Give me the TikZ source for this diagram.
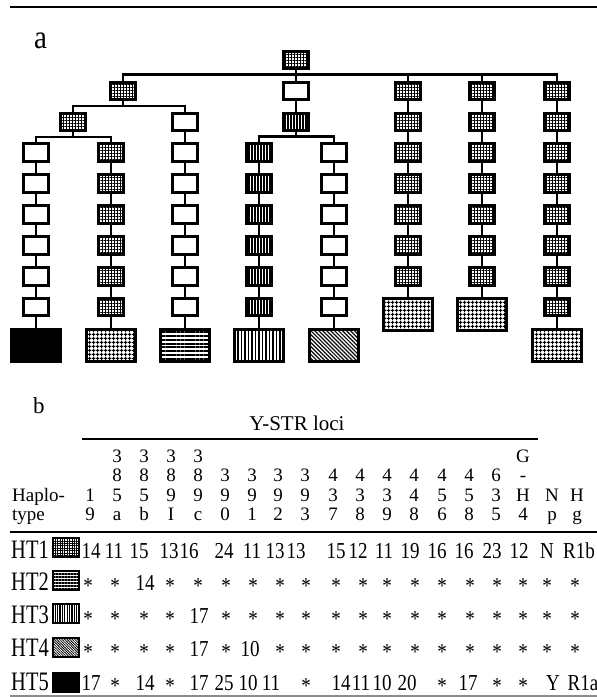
\documentclass[tikz,border=0pt]{standalone}
\usepackage{fontspec}
\setmainfont{Liberation Serif}
\usepackage{graphicx}
\usetikzlibrary{patterns.meta,backgrounds}
\newcommand\vs[1]{\scalebox{1}[1.2]{#1}}
\newcommand\st{\raisebox{-2.5bp}{*}}
\tikzset{
  box/.style={draw, line width=3bp, minimum width=24.5bp, minimum height=17.5bp, inner sep=0, preaction={fill=white}},
  bigbox/.style={draw, line width=3bp, minimum width=49bp, minimum height=32bp, inner sep=0, preaction={fill=white}},
  tbox/.style={draw, line width=2bp, minimum width=26bp, minimum height=19bp, inner sep=0},
  conn/.style={line width=2.6bp},
  rule/.style={line width=1.8bp},
  gridS/.style={pattern={Hatch[angle=0,distance=3bp,line width=1bp]}},
  gridB/.style={pattern={Hatch[angle=0,distance=3.6bp,line width=1.2bp]}},
  vlS/.style={pattern={Lines[angle=90,distance=3bp,line width=1.6bp]}},
  vlB/.style={pattern={Lines[angle=90,distance=3.5bp,line width=1.9bp]}},
  hlB/.style={pattern={Lines[angle=0,distance=3.8bp,line width=2.1bp]}},
  dgB/.style={pattern={Lines[angle=-45,distance=2.8bp,line width=1.2bp]}},
  gridT/.style={pattern={Hatch[angle=0,distance=2.4bp,line width=0.8bp]}},
  hlT/.style={pattern={Lines[angle=0,distance=3bp,line width=1.5bp]}},
  vlT/.style={pattern={Lines[angle=90,distance=2.4bp,line width=1.3bp]}},
  dgT/.style={pattern={Lines[angle=-45,distance=1.8bp,line width=0.8bp]}},
  hd/.style={anchor=base, inner sep=0, font=\fontsize{19bp}{19bp}\selectfont},
  num/.style={anchor=base, inner sep=0, font=\fontsize{19bp}{19bp}\selectfont},
  htlab/.style={anchor=base west, inner sep=0, font=\fontsize{20.5bp}{20.5bp}\selectfont},
}
\begin{document}
\begin{tikzpicture}[x=1bp, y=-1bp, line join=miter]
\useasboundingbox (0,0) rectangle (597,697);
% rules
\draw[rule] (10,7) -- (597,7);
\node[anchor=base west, inner sep=0, font=\fontsize{29bp}{29bp}\selectfont] (la) at (34,49) {\scalebox{1}[1.15]{a}};

% ---------- tree ----------
\node[box, gridS] (r) at (296,60) {};
\node[box, gridS] (a) at (123,90.9) {};
\node[box] (m1) at (296,90.9) {};
\node[box, gridS] (b) at (73,121.8) {};
\node[box, vlS] (m2) at (296,121.8) {};

\foreach \k in {3,...,8} \node[box] (ca\k) at (36,{60+30.9*\k}) {};
\node[bigbox, fill=black] (ca9) at (36,345.35) {};
\foreach \k in {3,...,8} \node[box, gridS] (cb\k) at (111,{60+30.9*\k}) {};
\node[bigbox, gridB] (cb9) at (111,345.35) {};
\foreach \k in {2,...,8} \node[box] (cc\k) at (185,{60+30.9*\k}) {};
\node[bigbox, hlB] (cc9) at (185,345.35) {};
\foreach \k in {3,...,8} \node[box, vlS] (cd\k) at (259,{60+30.9*\k}) {};
\node[bigbox, vlB] (cd9) at (259,345.35) {};
\foreach \k in {3,...,8} \node[box] (ce\k) at (334,{60+30.9*\k}) {};
\node[bigbox, dgB] (ce9) at (334,345.35) {};
\foreach \k in {1,...,7} \node[box, gridS] (cf\k) at (408,{60+30.9*\k}) {};
\node[bigbox, gridB] (cf8) at (408,314.45) {};
\foreach \k in {1,...,7} \node[box, gridS] (cg\k) at (482,{60+30.9*\k}) {};
\node[bigbox, gridB] (cg8) at (482,314.45) {};
\foreach \k in {1,...,8} \node[box, gridS] (ch\k) at (557,{60+30.9*\k}) {};
\node[bigbox, gridB] (ch9) at (557,345.35) {};

\begin{scope}[on background layer]
% chains
\foreach \k/\m in {3/4,4/5,5/6,6/7,7/8,8/9} {
  \draw[conn] (ca\k.south) -- (ca\m.north);
  \draw[conn] (cb\k.south) -- (cb\m.north);
  \draw[conn] (cc\k.south) -- (cc\m.north);
  \draw[conn] (cd\k.south) -- (cd\m.north);
  \draw[conn] (ce\k.south) -- (ce\m.north);
  \draw[conn] (ch\k.south) -- (ch\m.north);
}
\draw[conn] (cc2.south) -- (cc3.north);
\foreach \k/\m in {1/2,2/3} \draw[conn] (ch\k.south) -- (ch\m.north);
\foreach \k/\m in {1/2,2/3,3/4,4/5,5/6,6/7,7/8} {
  \draw[conn] (cf\k.south) -- (cf\m.north);
  \draw[conn] (cg\k.south) -- (cg\m.north);
}
% branches
\foreach \t in {a, m1, cf1, cg1, ch1}
  \draw[conn] (r.south) -- ++(0,5) -| (\t.north);
\foreach \t in {b, cc2}
  \draw[conn] (a.south) -- ++(0,5) -| (\t.north);
\foreach \t in {ca3, cb3}
  \draw[conn] (b.south) -- ++(0,5) -| (\t.north);
\draw[conn] (m1.south) -- (m2.north);
\foreach \t in {cd3, ce3}
  \draw[conn] (m2.south) -- ++(0,5) -| (\t.north);
\end{scope}

% ---------- table ----------
\node[anchor=base west, inner sep=0, font=\fontsize{23bp}{23bp}\selectfont] (lb) at (33,413) {b};
\node[anchor=base, inner sep=0, font=\fontsize{21bp}{21bp}\selectfont] (ystr) at (297,430) {Y-STR loci};
\draw[rule] (82,439) -- (538,439);

\node[hd, anchor=base west] (haplo) at (12,501) {Haplo-};
\node[hd, anchor=base west] (type) at (12,520.5) {type};

\foreach \x/\t [count=\n] in {117/3,144/3,171/3,198/3,523/G}
  \node[hd] (ha\n) at (\x,462) {\t};
\foreach \x/\t [count=\n] in {117/8,144/8,171/8,198/8,225/3,252/3,278/3,305/3,333/4,360/4,387/4,414/4,442/4,469/4,496/6,523/-}
  \node[hd] (hb\n) at (\x,481.5) {\t};
\foreach \x/\t [count=\n] in {90/1,117/5,144/5,171/9,198/9,225/9,252/9,278/9,305/9,333/3,360/3,387/3,414/4,442/5,469/5,496/3,523/H,552/N,577/H}
  \node[hd] (hc\n) at (\x,501) {\t};
\foreach \x/\t [count=\n] in {90/9,117/a,144/b,171/I,198/c,225/0,252/1,278/2,305/3,333/7,360/8,387/9,414/8,442/6,469/8,496/5,523/4,552/p,577/g}
  \node[hd] (hd\n) at (\x,520.5) {\t};

\draw[rule] (10,532) -- (597,532);

% row labels and symbols
\foreach \n/\y in {1/558, 2/590, 3/623, 4/656, 5/690}
  \node[htlab] (ht\n) at (11,\y) {\scalebox{1}[1.3]{HT\n}};
\node[tbox, gridT] (s1) at (66,547.5) {};
\node[tbox, hlT] (s2) at (66,580) {};
\node[tbox, vlT] (s3) at (66,613.5) {};
\node[tbox, dgT] (s4) at (66,647.5) {};
\node[tbox, fill=black] (s5) at (66,682) {};

% row values
\foreach \x/\t [count=\n] in {91/14,114/11,139/15,169/13,189/16,224/24,252/11,275/13,296/13,336/15,358/12,384/11,410/19,437/16,464/16,492/23,519/12,547/N,579/R1b}
  \node[num] (va\n) at (\x,558) {\vs{\t}};
\foreach \x/\t [count=\n] in {88/\st,115/\st,145/14,170/\st,198/\st,226/\st,253/\st,280/\st,306/\st,336/\st,363/\st,387/\st,415/\st,442/\st,470/\st,497/\st,523/\st,547/\st,575/\st}
  \node[num] (vb\n) at (\x,590) {\vs{\t}};
\foreach \x/\t [count=\n] in {88/\st,115/\st,144/\st,170/\st,199/17,226/\st,253/\st,280/\st,306/\st,336/\st,363/\st,387/\st,415/\st,442/\st,470/\st,497/\st,523/\st,547/\st,575/\st}
  \node[num] (vc\n) at (\x,623) {\vs{\t}};
\foreach \x/\t [count=\n] in {88/\st,115/\st,144/\st,170/\st,199/17,226/\st,250/10,280/\st,306/\st,336/\st,363/\st,387/\st,415/\st,442/\st,470/\st,497/\st,523/\st,547/\st,575/\st}
  \node[num] (vd\n) at (\x,656) {\vs{\t}};
\foreach \x/\t [count=\n] in {91/17,115/\st,145/14,170/\st,199/17,224/25,248/10,271/11,306/\st,341/14,361/11,382/10,407/20,442/\st,468/17,497/\st,523/\st,553/Y,583/R1a}
  \node[num] (ve\n) at (\x,690) {\vs{\t}};

\draw[line width=1.5bp, black!45] (10,696) -- (597,696);
\end{tikzpicture}
\end{document}
